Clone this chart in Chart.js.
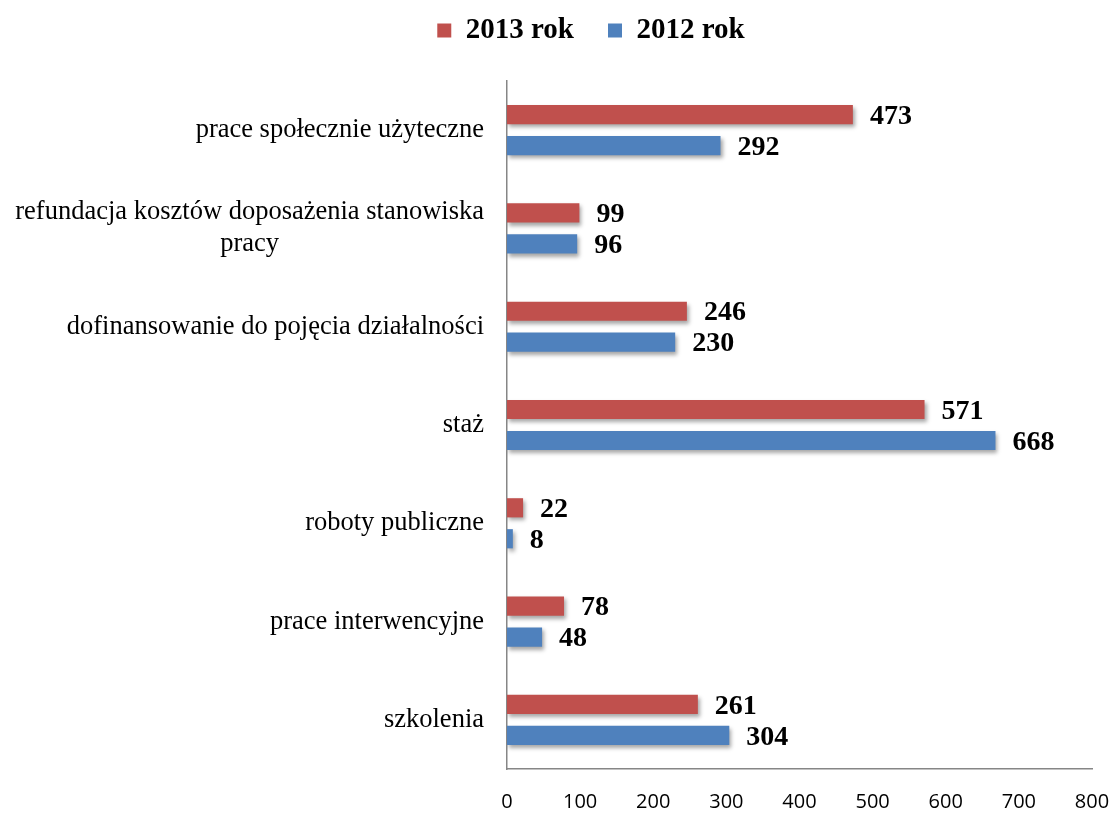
<!DOCTYPE html>
<html>
<head>
<meta charset="utf-8">
<script src="https://cdn.jsdelivr.net/npm/chart.js@4/dist/chart.umd.min.js"></script>
<style>
html, body { margin: 0; padding: 0; background: #fff; }
#wrap { width: 1119px; height: 814px; }
</style>
</head>
<body>
<div id="wrap"><canvas id="chart"></canvas></div>
<script>
// categories, top to bottom
const categories = [
    "prace społecznie użyteczne",
    ["refundacja kosztów doposażenia stanowiska", "pracy"],
    "dofinansowanie do pojęcia działalności",
    "staż",
    "roboty publiczne",
    "prace interwencyjne",
    "szkolenia"
];
const values2013 = [473, 99, 246, 571, 22, 78, 261];
const values2012 = [292, 96, 230, 668, 8, 48, 304];
const xMin = 0;
const xMax = 800;
const xStep = 100;

// extra room under the legend
const legendGap = {
    id: "legendGap",
    afterInit(chart) {
        const lg = chart.legend;
        if (!lg) return;
        const fit = lg.fit;
        lg.fit = function () {
            fit.call(this);
            this.height += 26;
        };
    }
};

// drop shadow under the bars
const barShadow = {
    id: "barShadow",
    beforeDatasetsDraw(chart) {
        const c = chart.ctx;
        c.save();
        c.shadowColor = "rgba(0,0,0,0.35)";
        c.shadowBlur = 4;
        c.shadowOffsetX = 2;
        c.shadowOffsetY = 3;
    },
    afterDatasetsDraw(chart) {
        chart.ctx.restore();
    }
};

// value labels at the end of each bar
const valueLabels = {
    id: "valueLabels",
    afterDatasetsDraw(chart) {
        const c = chart.ctx;
        c.save();
        c.font = "bold 28px 'Liberation Serif', 'Times New Roman', serif";
        c.fillStyle = "#000";
        c.textAlign = "left";
        c.textBaseline = "middle";
        chart.data.datasets.forEach((ds, di) => {
            chart.getDatasetMeta(di).data.forEach((bar, i) => {
                c.fillText(String(ds.data[i]), bar.x + 17, bar.y + 2);
            });
        });
        c.restore();
    }
};

// category labels, each block right aligned, lines centred inside the block
const categoryLabels = {
    id: "categoryLabels",
    afterDraw(chart) {
        const c = chart.ctx;
        const y = chart.scales.y;
        const right = y.right - 23;
        const lineH = 32;
        c.save();
        c.font = "26.5px 'Liberation Serif', 'Times New Roman', serif";
        c.fillStyle = "#000";
        c.textAlign = "center";
        c.textBaseline = "middle";
        categories.forEach((lab, i) => {
            const lines = Array.isArray(lab) ? lab : [lab];
            const w = Math.max(...lines.map(l => c.measureText(l).width));
            const cx = right - w / 2;
            const cy = y.getPixelForValue(i);
            lines.forEach((l, k) => {
                c.fillText(l, cx, cy + (k - (lines.length - 1) / 2) * lineH);
            });
        });
        c.restore();
    }
};

new Chart(document.getElementById("chart"), {
    type: "bar",
    data: {
        labels: categories,
        datasets: [{
            label: "2013 rok",
            data: values2013,
            backgroundColor: "#C0504D",
            borderWidth: 0,
            categoryPercentage: 0.63,
            barPercentage: 0.62
        }, {
            label: "2012 rok",
            data: values2012,
            backgroundColor: "#4F81BD",
            borderWidth: 0,
            categoryPercentage: 0.63,
            barPercentage: 0.62
        }]
    },
    options: {
        indexAxis: "y",
        responsive: true,
        maintainAspectRatio: false,
        animation: false,
        layout: { padding: { top: -18, left: 90, right: 27, bottom: -21 } },
        plugins: {
            tooltip: { enabled: false },
            legend: {
                position: "top",
                labels: {
                    boxWidth: 14,
                    boxHeight: 14,
                    padding: 34,
                    color: "#000",
                    font: { family: "'Liberation Serif', 'Times New Roman', serif", size: 29, weight: "bold" }
                }
            }
        },
        scales: {
            x: {
                min: xMin,
                max: xMax,
                grid: { display: false, drawTicks: false },
                border: { display: true, color: "#868686", width: 1.5 },
                ticks: {
                    stepSize: xStep,
                    padding: 21,
                    color: "#000",
                    font: { family: "'Open Sans', sans-serif", size: 20 }
                },
                afterFit(scale) {
                    scale.paddingLeft = 0;
                    scale.paddingRight = 0;
                }
            },
            y: {
                grid: { display: false, drawTicks: false },
                border: { display: true, color: "#868686", width: 1.5 },
                ticks: { display: false },
                afterFit(scale) { scale.width = 417; }
            }
        }
    },
    plugins: [legendGap, barShadow, valueLabels, categoryLabels]
});
</script>
</body>
</html>
